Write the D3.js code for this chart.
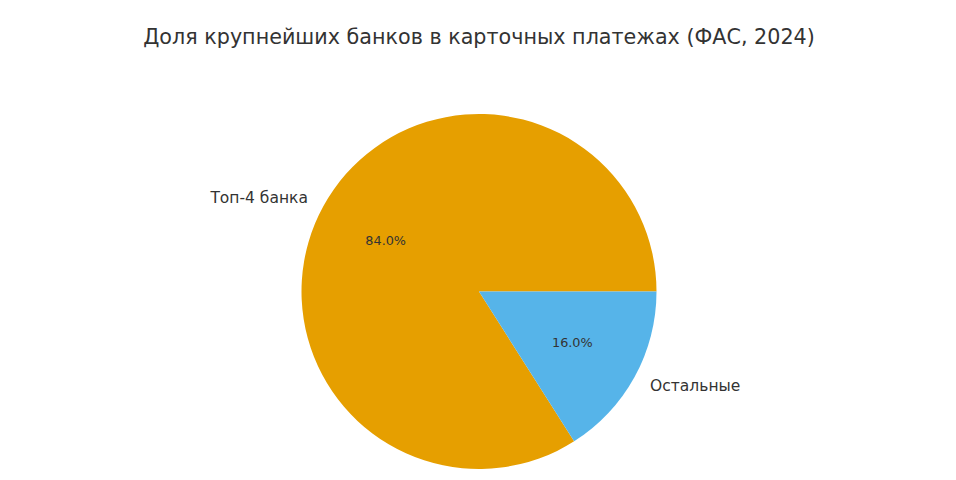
<html>
<head>
    <meta charset="utf-8">
    <title>Доля крупнейших банков</title>
    <script src="https://cdn.jsdelivr.net/npm/d3@7"></script>
    <style>
        body { margin: 0; background: #fff; }
        svg text { font-family: "DejaVu Sans", sans-serif; fill: #333; }
    </style>
</head>
<body>
    <svg width="956" height="480"></svg>
    <script>
        const labels = ["Топ-4 банка", "Остальные"];
        const shares = [84.0, 16.0];
        const colors = ["#E69F00", "#56B4E9"];
        const title = "Доля крупнейших банков в карточных платежах (ФАС, 2024)";

        const svg = d3.select('svg');
        const cx = 479, cy = 291.5, r = 177.5;

        svg.append('text')
            .attr('x', cx)
            .attr('y', 44)
            .attr('text-anchor', 'middle')
            .style('font-size', '20.7px')
            .text(title);

        const data = labels.map((d, i) => ({ label: d, value: shares[i], color: colors[i] }));

        // matplotlib style: start at 3 o'clock, go counterclockwise
        const pie = d3.pie().value(d => d.value).sort(null)
            .startAngle(Math.PI / 2).endAngle(Math.PI / 2 - 2 * Math.PI);
        const arcs = pie(data);
        const arc = d3.arc().innerRadius(0).outerRadius(r);

        const g = svg.append('g').attr('transform', `translate(${cx},${cy})`);

        g.selectAll('path').data(arcs).join('path')
            .attr('d', arc)
            .attr('fill', d => d.data.color);

        const pos = (d, k) => {
            const a = (d.startAngle + d.endAngle) / 2;
            return [k * r * Math.sin(a), -k * r * Math.cos(a)];
        };

        g.selectAll('.lbl').data(arcs).join('text')
            .attr('class', 'lbl')
            .attr('x', d => pos(d, 1.1)[0])
            .attr('y', d => pos(d, 1.1)[1])
            .attr('dy', '0.35em')
            .attr('text-anchor', d => pos(d, 1.1)[0] < 0 ? 'end' : 'start')
            .style('font-size', '15.5px')
            .text(d => d.data.label);

        g.selectAll('.pct').data(arcs).join('text')
            .attr('class', 'pct')
            .attr('x', d => pos(d, 0.6)[0])
            .attr('y', d => pos(d, 0.6)[1])
            .attr('dy', '0.35em')
            .attr('text-anchor', 'middle')
            .style('font-size', '12.8px')
            .text(d => d.data.value.toFixed(1) + '%');
    </script>
</body>
</html>
